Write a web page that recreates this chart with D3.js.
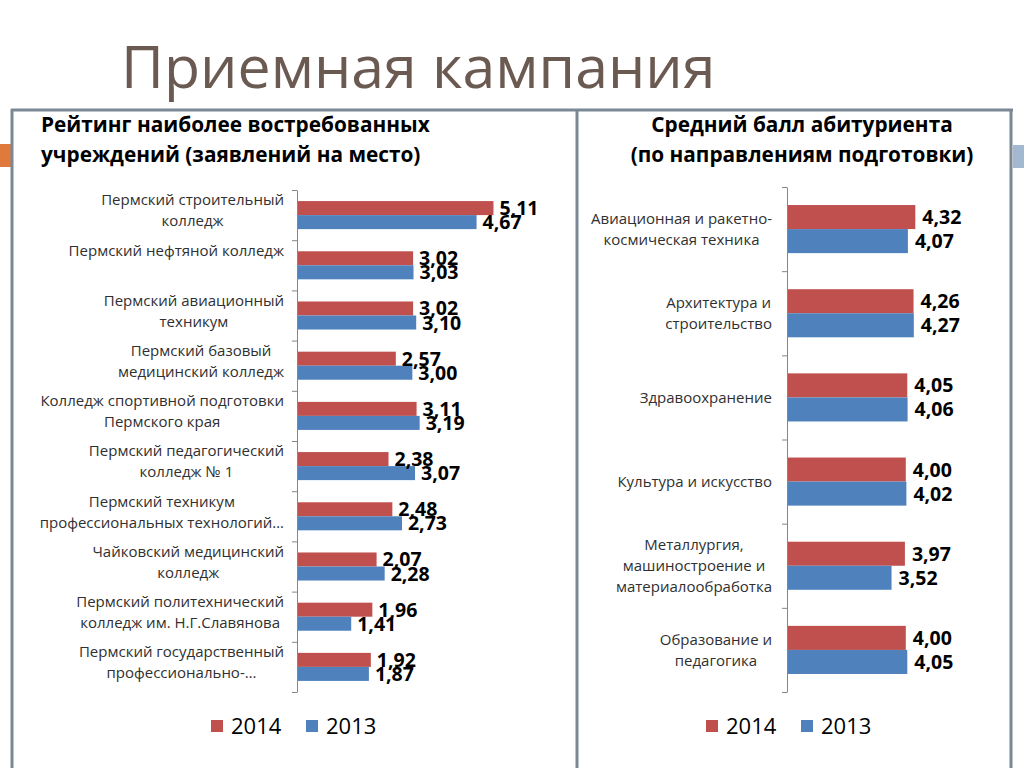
<!DOCTYPE html>
<html>
<head>
<meta charset="utf-8">
<script src="https://cdn.jsdelivr.net/npm/d3@7"></script>
<style>
  body { margin: 0; background: #fff; }
  svg { display: block; font-family: "Open Sans", "Noto Sans", sans-serif; }
</style>
</head>
<body>
<svg id="slide" width="1024" height="768"></svg>
<script>
// series (años)
const series = ["2014", "2013"];
const colores = { "2014": "#c0504d", "2013": "#4f81bd" };

// gráfica izquierda: заявлений на место
const uchrezhdeniya = [
  ["Пермский строительный", "колледж"],
  ["Пермский нефтяной колледж"],
  ["Пермский авиационный", "техникум"],
  ["Пермский базовый", "медицинский колледж"],
  ["Колледж спортивной подготовки", "Пермского края"],
  ["Пермский педагогический", "колледж № 1"],
  ["Пермский техникум", "профессиональных технологий…"],
  ["Чайковский медицинский", "колледж"],
  ["Пермский политехнический", "колледж им. Н.Г.Славянова"],
  ["Пермский государственный", "профессионально-…"]
];
const reyting2014 = [5.11, 3.02, 3.02, 2.57, 3.11, 2.38, 2.48, 2.07, 1.96, 1.92];
const reyting2013 = [4.67, 3.03, 3.10, 3.00, 3.19, 3.07, 2.73, 2.28, 1.41, 1.87];

// gráfica derecha: средний балл
const napravleniya = [
  ["Авиационная и ракетно-", "космическая техника"],
  ["Архитектура и", "строительство"],
  ["Здравоохранение"],
  ["Культура и искусство"],
  ["Металлургия,", "машиностроение и", "материалообработка"],
  ["Образование и", "педагогика"]
];
const ball2014 = [4.32, 4.26, 4.05, 4.00, 3.97, 4.00];
const ball2013 = [4.07, 4.27, 4.06, 4.02, 3.52, 4.05];

const svg = d3.select("#slide");
const fmt = d3.formatLocale({ decimal: ",", thousands: " ", grouping: [3], currency: ["", ""] }).format(".2f");

// marco de la diapositiva
const marco = "#7b8896";
svg.append("rect").attr("x", 0).attr("y", 144).attr("width", 11).attr("height", 23).attr("fill", "#e07a3c");
svg.append("rect").attr("x", 1013).attr("y", 145).attr("width", 11).attr("height", 23).attr("fill", "#a3b9d1");
svg.append("line").attr("x1", 11).attr("x2", 1013).attr("y1", 110).attr("y2", 110).attr("stroke", marco).attr("stroke-width", 3);
[12, 577, 1011].forEach(x => {
  svg.append("line").attr("x1", x).attr("x2", x).attr("y1", 109).attr("y2", 768).attr("stroke", marco).attr("stroke-width", 3);
});

// título principal
svg.append("text").attr("x", 121).attr("y", 88)
  .attr("font-size", 59).attr("fill", "#6b5a52")
  .text("Приемная кампания");

// títulos de las gráficas
const titulo = (lineas, x, anchor) => {
  const t = svg.append("text").attr("font-size", 20.8).attr("font-weight", "bold").attr("fill", "#000").attr("text-anchor", anchor);
  lineas.forEach((l, i) => t.append("tspan").attr("x", x).attr("y", 132 + i * 30).text(l));
};
titulo(["Рейтинг наиболее востребованных", "учреждений (заявлений на место)"], 41, "start");
titulo(["Средний балл абитуриента", "(по направлениям подготовки)"], 802, "middle");

// función para dibujar cada gráfica de barras horizontales
const renderBarras = (cfg) => {
  const n = cfg.categorias.length;
  const x = d3.scaleLinear().domain([0, cfg.maxX]).range([cfg.ejeX, cfg.ejeX + cfg.anchoX]);
  const y = d3.scaleBand().domain(d3.range(n)).range([cfg.top, cfg.bottom]);
  const yS = d3.scaleBand().domain(series).range([0, y.bandwidth()]).paddingOuter(cfg.pad);

  const datos = cfg.categorias.map((c, i) => ({ i, valores: [
    { s: "2014", v: cfg.v2014[i] }, { s: "2013", v: cfg.v2013[i] }
  ]}));

  const g = svg.append("g");
  const grupos = g.selectAll("g.cat").data(datos).enter().append("g")
    .attr("class", "cat")
    .attr("transform", d => `translate(0, ${y(d.i)})`);

  grupos.selectAll("rect").data(d => d.valores).enter().append("rect")
    .attr("x", x(0))
    .attr("y", d => yS(d.s))
    .attr("width", d => x(d.v) - x(0))
    .attr("height", yS.bandwidth())
    .attr("fill", d => colores[d.s]);

  grupos.selectAll("text.valor").data(d => d.valores).enter().append("text")
    .attr("class", "valor")
    .attr("x", d => x(d.v) + cfg.offLabel)
    .attr("y", d => yS(d.s) + yS.bandwidth() / 2)
    .attr("dy", "0.36em")
    .attr("font-size", 19.5).attr("font-weight", "bold").attr("fill", "#000")
    .text(d => fmt(d.v));

  // eje con marcas en los límites de cada categoría
  const yLim = d3.scaleLinear().domain([0, n]).range([cfg.top, cfg.bottom]);
  const eje = g.append("g").attr("transform", `translate(${cfg.ejeX}, 0)`)
    .call(d3.axisLeft(yLim).ticks(n).tickSize(5).tickSizeOuter(0).tickFormat(""));
  eje.select(".domain").attr("stroke", "#868686");
  eje.selectAll(".tick line").attr("stroke", "#868686");

  // etiquetas de categorías (bloque alineado a la derecha, líneas centradas)
  cfg.categorias.forEach((lineas, i) => {
    const c = y(i) + y.bandwidth() / 2;
    const t = g.append("text").attr("font-size", 15).attr("fill", "#303030").attr("text-anchor", "middle");
    const tsp = lineas.map((l, k) => t.append("tspan").attr("y", cfg.lineaY(c, k, lineas.length)).attr("dy", "0.35em").text(l));
    const ancho = d3.max(tsp, s => s.node().getComputedTextLength());
    tsp.forEach(s => s.attr("x", cfg.bordeEtiq - ancho / 2));
  });

  // leyenda
  const ley = svg.append("g").attr("transform", `translate(${cfg.leyenda[0]}, ${cfg.leyenda[1]})`);
  series.forEach((s, k) => {
    const gx = k * 95;
    ley.append("rect").attr("x", gx).attr("y", -6).attr("width", 12).attr("height", 12).attr("fill", colores[s]);
    ley.append("text").attr("x", gx + 20).attr("y", 0).attr("dy", "0.36em")
      .attr("font-size", 22).attr("fill", "#000").text(s);
  });
};

renderBarras({
  categorias: uchrezhdeniya, v2014: reyting2014, v2013: reyting2013,
  ejeX: 297, anchoX: 230.7, maxX: 6, top: 190, bottom: 692, pad: 0.79,
  offLabel: 6, bordeEtiq: 284,
  lineaY: (c, k, m) => c - 15 + k * 21,
  leyenda: [211, 726]
});

renderBarras({
  categorias: napravleniya, v2014: ball2014, v2013: ball2013,
  ejeX: 787, anchoX: 148.5, maxX: 5, top: 187, bottom: 692, pad: 0.75,
  offLabel: 7, bordeEtiq: 772,
  lineaY: (c, k, m) => c + (k - (m - 1) / 2) * 21,
  leyenda: [706, 726]
});
</script>
</body>
</html>
